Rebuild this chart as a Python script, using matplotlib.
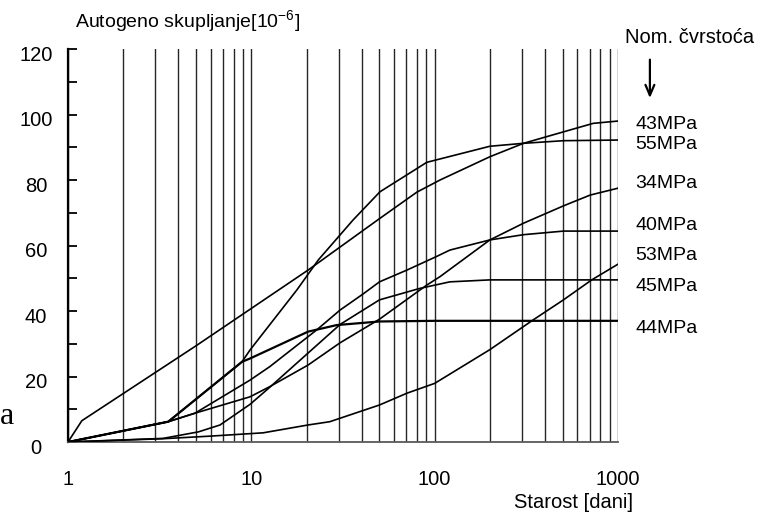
import matplotlib
matplotlib.use('Agg')
import matplotlib.pyplot as plt
from matplotlib.ticker import FixedLocator, LogLocator, NullFormatter
from matplotlib.transforms import ScaledTranslation, blended_transform_factory

# starost [dani] i autogeno skupljanje [10^-6] ocitano sa slike
dani_43 = [1, 1.19, 5, 20.4, 50.3, 80, 107, 200, 305, 504, 733, 1000]
skup_43 = [0, 6.5, 29.4, 52.5, 68.3, 76.3, 80.0, 87.1, 91.2, 94.7, 97.3, 98.0]

dani_55 = [1, 3.52, 8.9, 9.84, 17.7, 23.2, 35.9, 50.3, 90.6, 200, 305, 504, 1000]
skup_55 = [0, 6.2, 24.5, 28.1, 46.4, 55.6, 67.8, 76.4, 85.4, 90.3, 91.2, 92.0, 92.2]

dani_34 = [1, 3.52, 4.93, 9.84, 12.6, 20.4, 30.5, 50, 90.5, 107, 200, 305, 504, 705, 1000]
skup_34 = [0, 6.2, 8.8, 13.8, 16.9, 23.5, 30.3, 37.5, 47.9, 50.5, 61.7, 66.8, 72.1, 75.4, 77.5]

dani_40 = [1, 3.52, 4.93, 9.84, 12.6, 22.7, 30.5, 40.7, 50, 70.6, 102, 121, 200, 305, 504, 1000]
skup_40 = [0, 6.2, 8.8, 18.9, 23.0, 34.2, 40.3, 45.2, 48.9, 52.5, 56.6, 58.6, 61.7, 63.3, 64.4, 64.4]

dani_53 = [1, 3.3, 6, 11.6, 20.4, 26.8, 50, 70.6, 100, 200, 345, 504, 719, 1000]
skup_53 = [0, 1.0, 1.8, 2.8, 5.2, 6.2, 11.3, 14.9, 17.9, 28.2, 37.3, 43.4, 49.5, 54.3]

dani_45 = [1, 3.3, 5.15, 6.75, 9.84, 12.6, 30.5, 50, 83, 121, 200, 1000]
skup_45 = [0, 1.1, 3.1, 5.2, 11.5, 16.7, 35.9, 43.4, 46.9, 48.9, 49.5, 49.5]

dani_44 = [1, 3.52, 8.9, 9.84, 20.4, 29.2, 50, 100, 1000]
skup_44 = [0, 6.2, 24.5, 25.5, 33.7, 35.7, 36.8, 37.0, 37.0]

oznake = ['43MPa', '55MPa', '34MPa', '40MPa', '53MPa', '45MPa', '44MPa']
oznake_y = [96.8, 90.7, 78.8, 66.0, 56.8, 47.6, 34.8]   # polozaj natpisa desno

y_ticks = [0, 20, 40, 60, 80, 100, 120]
x_ticks = [1, 10, 100, 1000]
x_tick_labels = ['1', '10', '100', '1000']

krivulje = [(dani_43, skup_43, 1.2), (dani_55, skup_55, 1.2), (dani_34, skup_34, 1.2),
            (dani_40, skup_40, 1.2), (dani_53, skup_53, 1.2), (dani_45, skup_45, 1.2),
            (dani_44, skup_44, 1.6)]

plt.rcParams['font.family'] = ['Liberation Sans', 'DejaVu Sans']
plt.rcParams['mathtext.fontset'] = 'custom'
plt.rcParams['mathtext.rm'] = 'Liberation Sans'

fig = plt.figure(figsize=(7.62, 5.13), dpi=100)
ax = fig.add_axes([68 / 762, 71 / 513, 550 / 762, 393 / 513])
ax.set_xscale('log')
ax.set_xlim(1, 1000)
ax.set_ylim(0, 120)

# vertikalne linije mreze (log skala)
ax.xaxis.set_minor_locator(LogLocator(base=10, subs=range(2, 10)))
ax.xaxis.set_minor_formatter(NullFormatter())
ax.xaxis.grid(True, which='both', color='0.15', lw=1.0)
ax.set_axisbelow(True)

for d, s, lw in krivulje:
    ax.plot(d, s, color='k', lw=lw, zorder=3)

ax.spines['top'].set_visible(False)
ax.spines['right'].set_visible(False)
ax.spines['left'].set_linewidth(1.6)
ax.spines['bottom'].set_linewidth(1.3)
ax.spines['bottom'].set_color('0.35')

ax.set_xticks(x_ticks)
ax.set_xticklabels(x_tick_labels)
ax.tick_params(axis='x', which='both', length=0, pad=20, labelsize=14.5)

ax.yaxis.set_major_locator(FixedLocator(y_ticks))
ax.yaxis.set_minor_locator(FixedLocator([v + 10 for v in y_ticks[:-1]]))
ax.set_yticklabels([str(v) for v in y_ticks], ha='center')
ax.tick_params(axis='y', which='both', direction='in', length=6.5, width=1.3,
               pad=23, labelsize=14.5)
for lbl in ax.get_yticklabels():
    lbl.set_transform(lbl.get_transform() + ScaledTranslation(0, -3 / 72, fig.dpi_scale_trans))

ax.text(0.218, 1.069, r'Autogeno skupljanje[10$^{\mathregular{-6}}$]', transform=ax.transAxes,
        ha='center', va='center', fontsize=14)
ax.set_xlabel('Starost [dani]', fontsize=14.5)
ax.xaxis.set_label_coords(0.92, -0.13)

ax.text(1.131, 1.028, 'Nom. čvrstoća', transform=ax.transAxes,
        ha='center', va='center', fontsize=14.5)
ax.annotate('', xy=(1.058, 0.868), xytext=(1.058, 0.98), xycoords='axes fraction',
            arrowprops=dict(arrowstyle='->,head_length=0.75,head_width=0.32', lw=1.6, color='k'),
            annotation_clip=False)

trans = blended_transform_factory(ax.transAxes, ax.transData)
for lab, yy in zip(oznake, oznake_y):
    ax.text(1.031, yy, lab, transform=trans, ha='left', va='center', fontsize=14)

fig.text(0.0, (513 - 417) / 513, 'a', family=['Liberation Serif', 'DejaVu Serif'],
         fontsize=23, ha='left', va='center')

fig.savefig('out.png', dpi=100)
